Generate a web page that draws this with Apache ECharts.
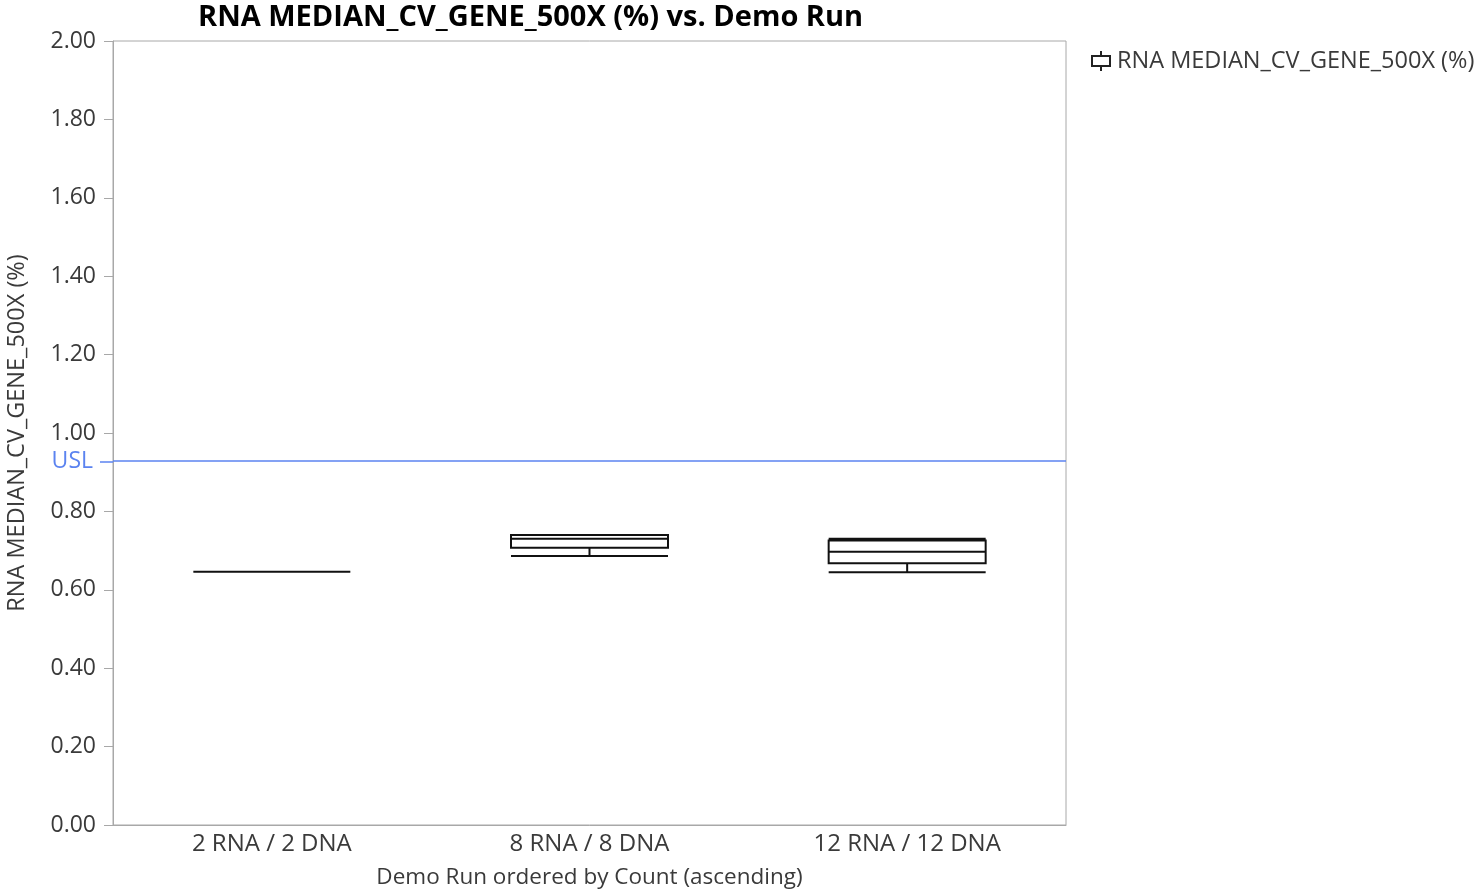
<!DOCTYPE html>
<html>
<head>
<meta charset="utf-8">
<script src="https://cdn.jsdelivr.net/npm/echarts@6/dist/echarts.min.js"></script>
<style>
html, body { margin: 0; padding: 0; background: #fff; overflow: hidden; }
#main { width: 1483px; height: 889px; }
</style>
</head>
<body>
<div id="main"></div>
<script>
// categories and box stats [min, Q1, median, Q3, max]
const runs = ['2 RNA / 2 DNA', '8 RNA / 8 DNA', '12 RNA / 12 DNA'];
const boxStats = [
    [0.646, 0.646, 0.646, 0.646, 0.646],
    [0.686, 0.707, 0.730, 0.740, 0.740],
    [0.645, 0.668, 0.697, 0.726, 0.730]
];
const usl = 0.927;
const seriesName = 'RNA MEDIAN_CV_GENE_500X (%)';

const font = '"Open Sans", "Noto Sans", sans-serif';
const textColor = '#3a3a3a';
const axisGray = '#a8a8a8';
const uslBlue = '#5b83f0';

var chart = echarts.init(document.getElementById('main'));

const option = {
    animation: false,
    textStyle: { fontFamily: font },
    title: {
        text: 'RNA MEDIAN_CV_GENE_500X (%) vs. Demo Run',
        left: 193,
        top: -2,
        textStyle: {
            fontFamily: font,
            fontSize: 29,
            fontWeight: 'bold',
            color: '#000'
        }
    },
    legend: {
        data: [{
            name: seriesName,
            icon: 'path://M1,4 L21,4 L21,16 L1,16 Z M3,6 L3,14 L19,14 L19,6 Z M10,0 L12,0 L12,4 L10,4 Z M10,16 L12,16 L12,20 L10,20 Z'
        }],
        left: 1086,
        top: 44,
        itemWidth: 22,
        itemHeight: 20,
        itemGap: 10,
        itemStyle: { color: '#222', borderWidth: 0 },
        textStyle: { fontFamily: font, fontSize: 23.5, color: textColor }
    },
    grid: {
        left: 113,
        right: 417,
        top: 41,
        bottom: 64,
        outerBoundsMode: 'none',
        show: true,
        borderColor: axisGray,
        borderWidth: 1,
        containLabel: false
    },
    xAxis: {
        type: 'category',
        data: runs,
        name: 'Demo Run ordered by Count (ascending)',
        nameLocation: 'middle',
        nameGap: 41,
        nameMoveOverlap: false,
        nameTextStyle: { fontFamily: font, fontSize: 22.5, color: textColor },
        axisLine: { lineStyle: { color: axisGray } },
        axisTick: { show: false },
        axisLabel: { fontFamily: font, fontSize: 24, color: textColor, margin: 7 },
        splitLine: { show: false }
    },
    yAxis: [{
        type: 'value',
        min: 0,
        max: 2,
        interval: 0.2,
        name: 'RNA MEDIAN_CV_GENE_500X (%)',
        nameLocation: 'middle',
        nameGap: 84,
        nameMoveOverlap: false,
        nameTextStyle: { fontFamily: font, fontSize: 23.5, color: textColor },
        axisLine: { show: true, lineStyle: { color: axisGray } },
        axisTick: { show: true, length: 9, lineStyle: { color: axisGray } },
        axisLabel: {
            fontFamily: font, fontSize: 23, color: textColor, margin: 17,
            formatter: v => v.toFixed(2)
        },
        splitLine: { show: false }
    }, {
        type: 'value',
        min: 0,
        max: 2,
        position: 'left',
        axisLine: { show: false },
        axisTick: { show: true, length: 13, customValues: [usl], lineStyle: { color: uslBlue, width: 1.5 } },
        axisLabel: {
            show: true, customValues: [usl], margin: 20,
            fontFamily: font, fontSize: 23, color: uslBlue,
            formatter: () => 'USL'
        },
        splitLine: { show: false }
    }],
    series: [{
        name: seriesName,
        type: 'boxplot',
        data: boxStats,
        boxWidth: [157, 157],
        itemStyle: { color: '#fff', borderColor: '#111', borderWidth: 2 },
        emphasis: { disabled: true },
        markLine: {
            silent: true,
            symbol: 'none',
            label: { show: false },
            lineStyle: { color: uslBlue, width: 1.5, type: 'solid' },
            data: [{ yAxis: usl }]
        }
    }]
};

option && chart.setOption(option);
</script>
</body>
</html>
